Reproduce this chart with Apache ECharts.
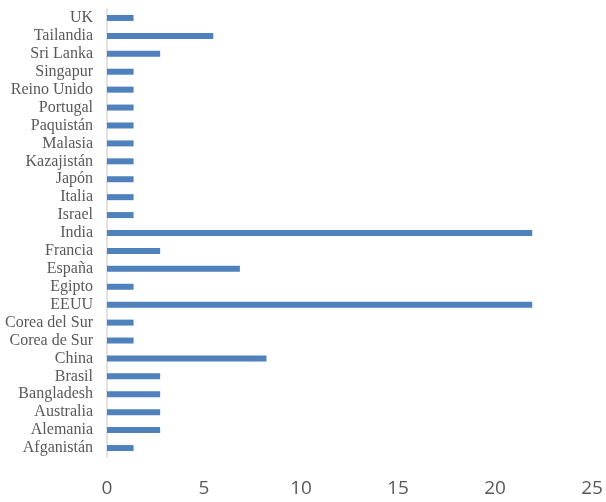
<!DOCTYPE html>
<html><head><meta charset="utf-8">
<script src="https://cdn.jsdelivr.net/npm/echarts@6/dist/echarts.min.js"></script>
<style>html,body{margin:0;padding:0;background:#fff}#c{width:606px;height:502px}</style>
</head><body><div id="c"></div>
<script>
const categories = ["Afganistán","Alemania","Australia","Bangladesh","Brasil","China","Corea de Sur","Corea del Sur","EEUU","Egipto","España","Francia","India","Israel","Italia","Japón","Kazajistán","Malasia","Paquistán","Portugal","Reino Unido","Singapur","Sri Lanka","Tailandia","UK"];
const values = [1.37,2.74,2.74,2.74,2.74,8.22,1.37,1.37,21.92,1.37,6.85,2.74,21.92,1.37,1.37,1.37,1.37,1.37,1.37,1.37,1.37,1.37,2.74,5.48,1.37];
const xTicks = [0,5,10,15,20,25];
const chart = echarts.init(document.getElementById('c'));
chart.setOption({
  animation:false,
  grid:{left:107,right:14,top:9,bottom:45,containLabel:false},
  xAxis:{type:'value',min:xTicks[0],max:xTicks[xTicks.length-1],interval:5,
    axisLine:{show:false},axisTick:{show:false},splitLine:{show:false},
    axisLabel:{fontFamily:'Open Sans',fontSize:19,color:'#595959',margin:22}},
  yAxis:{type:'category',data:categories,
    axisLine:{show:true,lineStyle:{color:'#d9d9d9',width:1.5}},axisTick:{show:false},
    axisLabel:{interval:0,fontFamily:'Liberation Serif',fontSize:16,color:'#595959',margin:14}},
  series:[{type:'bar',data:values,barWidth:6,itemStyle:{color:'#4f81bd'}}]
});
</script></body></html>
